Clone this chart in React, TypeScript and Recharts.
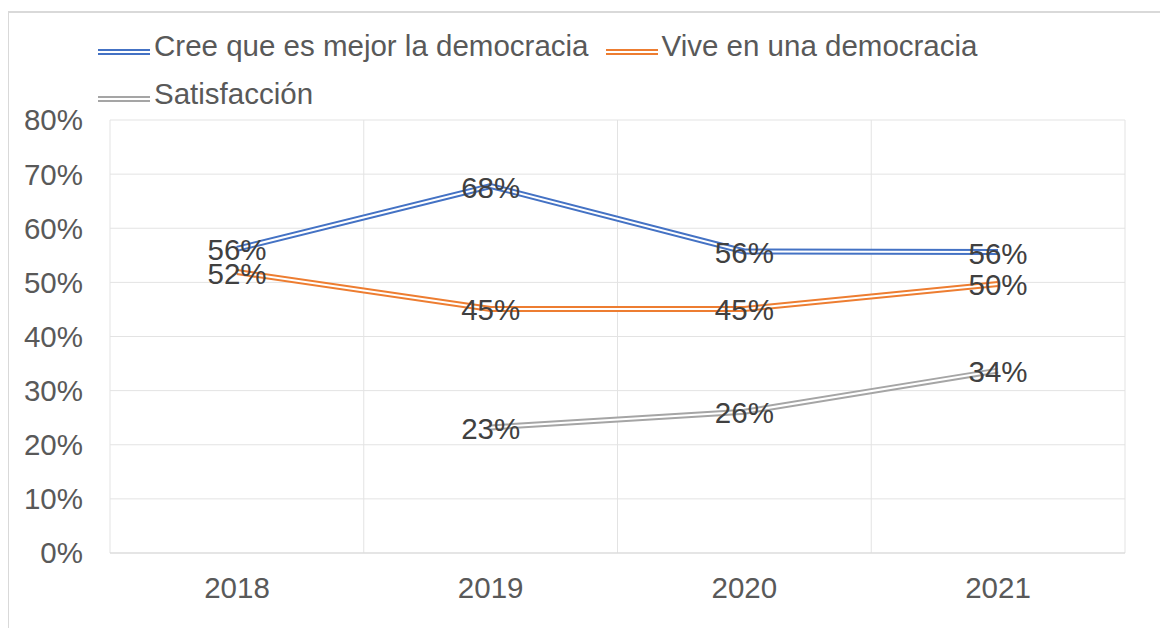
import {
  LineChart,
  Line,
  XAxis,
  YAxis,
  CartesianGrid,
  LabelList,
} from "recharts";

const years = ["2018", "2019", "2020", "2021"];
const creeMejor = [56.2, 67.8, 55.7, 55.6];
const viveDemocracia = [51.9, 45.1, 45.1, 49.7];
const satisfaccion: (number | null)[] = [null, 23.2, 26.1, 33.7];
const yTicks = [0, 10, 20, 30, 40, 50, 60, 70, 80];

const SERIES = [
  { key: "cree", name: "Cree que es mejor la democracia", color: "#4472C4" },
  { key: "vive", name: "Vive en una democracia", color: "#ED7D31" },
  { key: "satis", name: "Satisfacción", color: "#A5A5A5" },
];

const data = years.map((year, i) => ({
  year,
  cree: creeMejor[i],
  vive: viveDemocracia[i],
  satis: satisfaccion[i],
}));

const FONT = "'Liberation Sans', Arial, sans-serif";
const HALF_BAND = 127;

function PointLabel(props: any) {
  const { x, y, value } = props;
  if (value == null) return null;
  return (
    <text
      x={x}
      y={y + 1}
      textAnchor="middle"
      dominantBaseline="central"
      fill="#404040"
      fontSize={29.5}
      fontFamily={FONT}
    >
      {Math.round(value)}%
    </text>
  );
}

// legend drawn by hand so the icons show the double stroke
function DoubleLineLegend() {
  return (
    <div
      style={{
        position: "absolute",
        left: 90,
        top: 14,
        width: 960,
        display: "flex",
        flexWrap: "wrap",
        fontFamily: FONT,
        fontSize: 29.5,
        lineHeight: "47.5px",
        color: "#595959",
      }}
    >
      {SERIES.map(s => (
        <div
          key={s.key}
          style={{ display: "flex", alignItems: "center", marginRight: 17 }}
        >
          <svg
            width={52}
            height={6}
            style={{ position: "relative", top: 6, marginRight: 4 }}
          >
            <rect x={0} y={0} width={52} height={2} fill={s.color} />
            <rect x={0} y={4} width={52} height={2} fill={s.color} />
          </svg>
          <span>{s.name}</span>
        </div>
      ))}
    </div>
  );
}

export default function App() {
  return (
    <div style={{ position: "relative", width: 1152, height: 620 }}>
      <div
        style={{
          position: "absolute",
          left: -1,
          top: 3,
          width: 1160,
          height: 640,
          borderTop: "2px solid #d9d9d9",
          borderLeft: "2px solid #d9d9d9",
          boxSizing: "border-box",
        }}
      />
      <LineChart
        width={1152}
        height={620}
        data={data}
        margin={{ top: 112, right: 35, bottom: 35, left: 0 }}
        style={{ position: "absolute", left: 0, top: 0 }}
      >
        <CartesianGrid
          stroke="#e3e3e3"
          verticalCoordinatesGenerator={({ offset }: any) =>
            years
              .map((_, i) => offset.left + (i * offset.width) / years.length)
              .concat(offset.left + offset.width)
          }
        />
        <XAxis
          dataKey="year"
          padding={{ left: HALF_BAND, right: HALF_BAND }}
          axisLine={{ stroke: "#d9d9d9" }}
          tickLine={false}
          tickSize={0}
          tickMargin={24}
          height={40}
          tick={{ fill: "#595959", fontSize: 29.5, fontFamily: FONT }}
        />
        <YAxis
          domain={[0, 80]}
          ticks={yTicks}
          tickFormatter={v => `${v}%`}
          axisLine={false}
          tickLine={false}
          tickSize={0}
          tickMargin={27}
          width={102}
          tick={{ fill: "#595959", fontSize: 29.5, fontFamily: FONT }}
        />
        {SERIES.map(s => (
          <Line
            key={`${s.key}-outer`}
            dataKey={s.key}
            name={s.name}
            stroke={s.color}
            strokeWidth={6}
            dot={false}
            activeDot={false}
            isAnimationActive={false}
          />
        ))}
        {SERIES.map(s => (
          <Line
            key={`${s.key}-inner`}
            dataKey={s.key}
            stroke="#ffffff"
            strokeWidth={2}
            dot={false}
            activeDot={false}
            legendType="none"
            isAnimationActive={false}
          />
        ))}
        {SERIES.map(s => (
          <Line
            key={`${s.key}-labels`}
            dataKey={s.key}
            stroke="none"
            dot={false}
            activeDot={false}
            legendType="none"
            isAnimationActive={false}
          >
            <LabelList dataKey={s.key} content={<PointLabel />} />
          </Line>
        ))}
      </LineChart>
      <DoubleLineLegend />
    </div>
  );
}
